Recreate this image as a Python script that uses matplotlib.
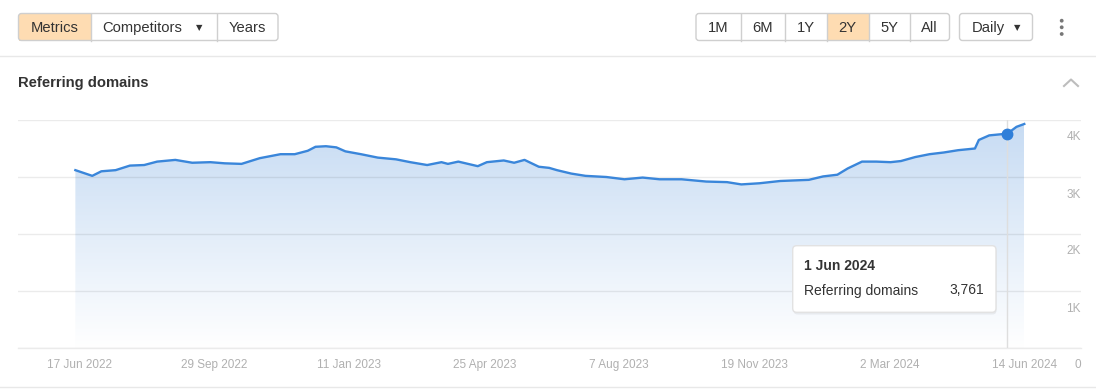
import numpy as np
import pandas as pd
import matplotlib
matplotlib.use('Agg')
import matplotlib.pyplot as plt
import matplotlib.dates as mdates
import matplotlib.transforms as mtransforms
from matplotlib.patches import FancyBboxPatch, Rectangle, Circle

plt.rcParams['font.family'] = ['Liberation Sans', 'DejaVu Sans']

# data
dates = ['2022-06-14', '2022-06-27', '2022-07-04', '2022-07-15', '2022-07-26', '2022-08-06',
         '2022-08-16', '2022-08-30', '2022-09-12', '2022-09-26', '2022-10-07', '2022-10-20',
         '2022-11-03', '2022-11-19', '2022-11-30', '2022-12-10', '2022-12-16', '2022-12-24',
         '2023-01-01', '2023-01-08', '2023-01-20', '2023-02-02', '2023-02-16', '2023-02-27',
         '2023-03-12', '2023-03-23', '2023-03-28', '2023-04-05', '2023-04-20', '2023-04-27',
         '2023-05-10', '2023-05-18', '2023-05-26', '2023-06-06', '2023-06-14', '2023-06-20',
         '2023-07-01', '2023-07-12', '2023-07-28', '2023-08-11', '2023-08-25', '2023-09-07',
         '2023-09-24', '2023-10-13', '2023-10-29', '2023-11-09', '2023-11-23', '2023-12-09',
         '2023-12-31', '2024-01-11', '2024-01-22', '2024-01-30', '2024-02-10', '2024-02-21',
         '2024-03-03', '2024-03-11', '2024-03-22', '2024-04-02', '2024-04-13', '2024-04-24',
         '2024-05-07', '2024-05-10', '2024-05-18', '2024-06-01', '2024-06-08', '2024-06-14']
domains = [3120, 3020, 3100, 3120, 3200, 3210,
           3270, 3300, 3250, 3260, 3240, 3230,
           3330, 3400, 3400, 3460, 3530, 3540,
           3520, 3450, 3400, 3340, 3310, 3260,
           3210, 3260, 3230, 3270, 3190, 3260,
           3290, 3250, 3300, 3180, 3160, 3120,
           3060, 3020, 3000, 2960, 2990, 2960,
           2960, 2920, 2910, 2870, 2890, 2930,
           2950, 3010, 3040, 3150, 3270, 3270,
           3260, 3280, 3350, 3400, 3430, 3470,
           3500, 3650, 3730, 3761, 3880, 3930]

tick_dates = pd.date_range('2022-06-17', periods=8, freq='104D')
y_ticks = [0, 1000, 2000, 3000, 4000]
y_labels = ['0', '1K', '2K', '3K', '4K']
hover_date = '2024-06-01'
hover_value = 3761

W, H = 1096, 389
fig = plt.figure(figsize=(W / 100, H / 100), dpi=100)


def px_box(x0, y0, x1, y1):
    return [x0 / W, 1 - y1 / H, (x1 - x0) / W, (y1 - y0) / H]


# main chart
ax = fig.add_axes(px_box(18, 120, 1081, 348))
xs = mdates.date2num(pd.to_datetime(dates))
ys = np.array(domains)
t0 = pd.Timestamp('2022-06-17')
ax.set_xlim(mdates.date2num(t0 - pd.Timedelta(days=47.2)),
            mdates.date2num(t0 + pd.Timedelta(days=771.7)))
ax.set_ylim(0, 4000)

poly = ax.fill_between(xs, ys, 0, facecolor='none', edgecolor='none')
top = np.array([198, 219, 243]) / 255
bot = np.array([255, 255, 255]) / 255
f = np.linspace(0, 1, 256)[:, None]
grad = (bot + (top - bot) * f)[:, None, :]
im = ax.imshow(grad, origin='lower', aspect='auto',
               extent=[xs[0], xs[-1], 0, 4000], zorder=1, interpolation='bilinear')
im.set_clip_path(poly.get_paths()[0], transform=ax.transData)

ax.plot(xs, ys, color='#3a86da', lw=1.7, zorder=3, solid_joinstyle='round')
hx = mdates.date2num(pd.Timestamp(hover_date))
ax.axvline(hx, color='#dedede', lw=1, zorder=2.6)
ax.plot([hx], [hover_value], 'o', ms=7.5, color='#2f7fd9', zorder=4)

for s in ax.spines.values():
    s.set_visible(False)
ax.set_axisbelow(False)
ax.set_yticks(y_ticks)
ax.set_yticklabels(y_labels)
ax.grid(axis='y', color='#000000', alpha=0.08, lw=1)
ax.axhline(0, color='#000000', alpha=0.08, lw=1, clip_on=False)
ax.set_xticks(mdates.date2num(tick_dates))
ax.set_xticklabels([f"{d.day} {d.strftime('%b %Y')}" for d in tick_dates])
ax.tick_params(axis='x', length=0, pad=8, labelcolor='#b0b0b0', labelsize=8.5)
ax.yaxis.tick_right()
ax.tick_params(axis='y', length=0, pad=0, labelcolor='#b0b0b0', labelsize=8.5)
shift = mtransforms.ScaledTranslation(0, -0.16, fig.dpi_scale_trans)
for tk in ax.yaxis.get_major_ticks():
    tk.label2.set_horizontalalignment('right')
    tk.label2.set_transform(tk.label2.get_transform() + shift)

# overlay for page decorations
ov = fig.add_axes([0, 0, 1, 1], zorder=5)
ov.set_xlim(0, W)
ov.set_ylim(H, 0)
ov.axis('off')
ov.patch.set_alpha(0)

ov.plot([0, W], [55.5, 55.5], color='#e8e8e8', lw=1)
ov.plot([0, W], [387, 387], color='#e8e8e8', lw=1)

orange = '#fedcb2'
border = '#cfcfcf'
txt = '#333333'


def group(x0, x1, splits, active):
    edges = [x0] + splits + [x1]
    for i, (a, b) in enumerate(zip(edges[:-1], edges[1:])):
        if i == active:
            ov.add_patch(Rectangle((a, 13.5), b - a, 27, fc=orange, ec='none'))
    ov.add_patch(FancyBboxPatch((x0, 13.5), x1 - x0, 27,
                                boxstyle='round,pad=0,rounding_size=3',
                                fc='none', ec=border, lw=1))
    for s in splits:
        ov.plot([s, s], [13.5, 40.5], color=border, lw=1)


group(18.5, 278, [90.5, 216.5], 0)
ov.text(54.5, 27.5, 'Metrics', ha='center', va='center', fontsize=10.6, color=txt)
ov.text(102.5, 27.5, 'Competitors', ha='left', va='center', fontsize=10.6, color=txt)
ov.text(199.5, 28, '\u25bc', ha='center', va='center', fontsize=6, color=txt,
        family='DejaVu Sans')
ov.text(247.5, 27.5, 'Years', ha='center', va='center', fontsize=10.6, color=txt)

group(696, 949.5, [740.5, 784.5, 826.5, 868.5, 909.5], 3)
for lab, cx in zip(['1M', '6M', '1Y', '2Y', '5Y', 'All'],
                   [718, 762.5, 805.5, 847.5, 889, 929.5]):
    ov.text(cx, 27.5, lab, ha='center', va='center', fontsize=10.6, color=txt)

ov.add_patch(FancyBboxPatch((959.5, 13.5), 73, 27,
                            boxstyle='round,pad=0,rounding_size=3',
                            fc='none', ec=border, lw=1))
ov.text(971.5, 27.5, 'Daily', ha='left', va='center', fontsize=10.6, color=txt)
ov.text(1017, 28, '\u25bc', ha='center', va='center', fontsize=6, color=txt,
        family='DejaVu Sans')
for cy in [20.7, 27.3, 34]:
    ov.add_patch(Circle((1061.7, cy), 1.9, fc='#777777', ec='none'))

ov.text(18, 83, 'Referring domains', ha='left', va='center', fontsize=10.6,
        weight='bold', color=txt)
ov.plot([1064, 1071, 1078], [86, 79.5, 86], color='#bdbdbd', lw=1.5)

# tooltip
ov.add_patch(FancyBboxPatch((793.5, 247.5), 203, 67,
                            boxstyle='round,pad=0,rounding_size=4',
                            fc='#000000', ec='none', alpha=0.06))
ov.add_patch(FancyBboxPatch((792.7, 245.7), 203.3, 66.6,
                            boxstyle='round,pad=0,rounding_size=4',
                            fc='white', ec='#e2e2e2', lw=1))
ov.text(804, 265.5, pd.Timestamp(hover_date).strftime('%-d %b %Y'), ha='left',
        va='center', fontsize=10, weight='bold', color=txt)
ov.text(804, 290.5, 'Referring domains', ha='left', va='center', fontsize=10, color=txt)
ov.text(984, 290.5, f'{hover_value:,}', ha='right', va='center', fontsize=10, color=txt)

fig.savefig('out.png', dpi=100, facecolor='white')
